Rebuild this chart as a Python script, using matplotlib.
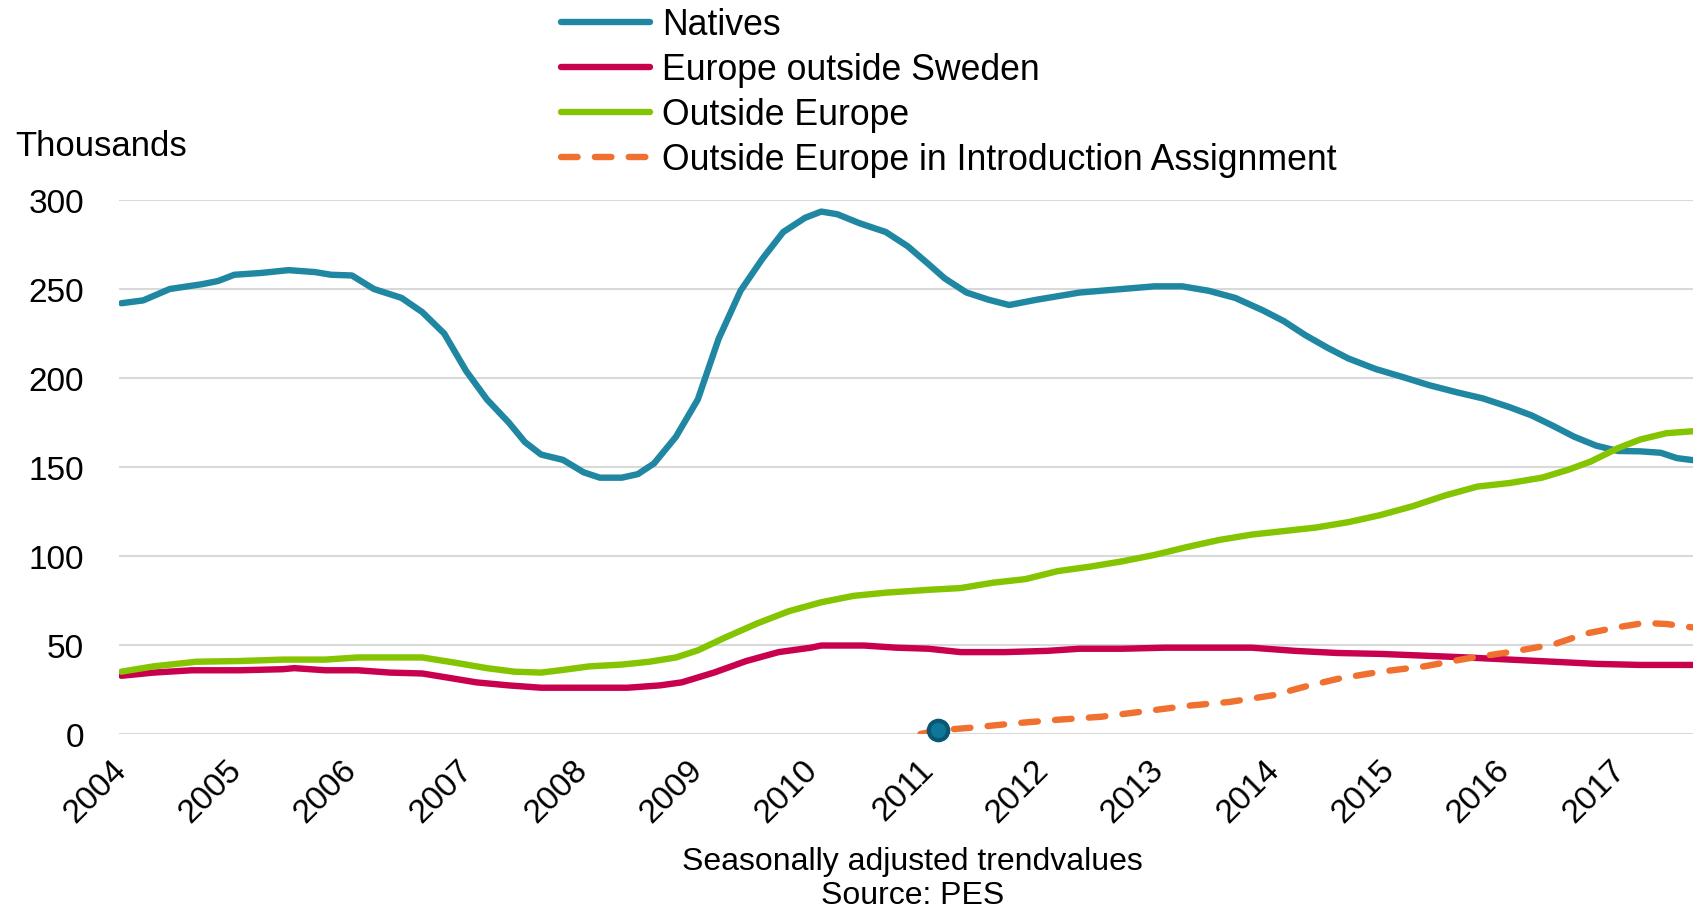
import matplotlib
matplotlib.use("Agg")
import matplotlib.pyplot as plt

plt.rcParams['font.family'] = ['Liberation Sans', 'DejaVu Sans']

# ---- data (decimal years, thousands) ----
nat_t = [2004.0, 2004.19, 2004.42, 2004.7, 2004.84, 2004.98, 2005.21, 2005.45, 2005.68, 2005.82,
         2006.0, 2006.19, 2006.43, 2006.61, 2006.8, 2006.99, 2007.17, 2007.36, 2007.5, 2007.64,
         2007.83, 2008.01, 2008.15, 2008.34, 2008.48, 2008.62, 2008.81, 2009.0, 2009.18, 2009.37,
         2009.56, 2009.74, 2009.93, 2010.07, 2010.21, 2010.4, 2010.63, 2010.82, 2011.0, 2011.14,
         2011.33, 2011.52, 2011.7, 2011.94, 2012.31, 2012.68, 2012.96, 2013.2, 2013.43, 2013.66,
         2013.9, 2014.08, 2014.27, 2014.46, 2014.64, 2014.88, 2015.11, 2015.34, 2015.58, 2015.81,
         2016.04, 2016.23, 2016.42, 2016.6, 2016.79, 2016.98, 2017.17, 2017.35, 2017.49, 2017.61, 2017.75]
nat_v = [242, 243.6, 250, 252.7, 254.5, 258, 259, 260.6, 259.5, 258,
         257.6, 250, 245, 237, 225, 204, 188, 175, 164, 157,
         154, 147, 144, 144, 146, 152, 167, 188, 222, 249,
         267, 282, 290, 293.5, 292, 287, 282, 274, 264, 256,
         248, 244, 241, 244, 248, 250, 251.5, 251.5, 249, 245,
         238, 232, 224, 217, 211, 205, 200.6, 196, 192, 188.5,
         183.6, 179, 173, 167, 162, 159, 158.8, 158, 155, 154, 153]

oe_t = [2004.0, 2004.28, 2004.65, 2005.03, 2005.4, 2005.77, 2006.05, 2006.61, 2006.9, 2007.17,
        2007.41, 2007.64, 2007.83, 2008.06, 2008.34, 2008.58, 2008.81, 2009.0, 2009.23, 2009.51,
        2009.79, 2010.07, 2010.35, 2010.63, 2011.0, 2011.28, 2011.56, 2011.84, 2012.12, 2012.4,
        2012.68, 2012.96, 2013.24, 2013.52, 2013.8, 2014.08, 2014.36, 2014.64, 2014.92, 2015.2,
        2015.48, 2015.76, 2016.04, 2016.32, 2016.55, 2016.74, 2016.98, 2017.17, 2017.4, 2017.61, 2017.75]
oe_v = [35, 38, 40.6, 41, 41.8, 41.8, 43, 43, 40, 37,
        35, 34.5, 36, 38, 39, 40.6, 43, 47, 54, 62,
        69, 74, 77.6, 79.4, 81, 82, 85, 87, 91.5, 94,
        97, 100.6, 105, 109, 112, 114, 116, 119, 123, 128,
        134, 139, 141, 144, 148.5, 153, 160.6, 165.4, 169, 170, 170.5]

eu_t = [2004.0, 2004.28, 2004.61, 2005.03, 2005.4, 2005.5, 2005.77, 2006.05, 2006.33, 2006.61,
        2006.8, 2007.08, 2007.36, 2007.64, 2008.01, 2008.39, 2008.67, 2008.86, 2009.14, 2009.42,
        2009.7, 2009.98, 2010.07, 2010.44, 2010.72, 2011.0, 2011.28, 2011.66, 2012.03, 2012.31,
        2012.68, 2013.06, 2013.43, 2013.8, 2014.18, 2014.55, 2014.92, 2015.3, 2015.67, 2016.04,
        2016.42, 2016.79, 2017.17, 2017.61, 2017.75]
eu_v = [32.7, 34.5, 35.8, 35.8, 36.4, 37, 35.8, 35.8, 34.5, 34,
        32, 29, 27.3, 26, 26, 26, 27.3, 29, 34.5, 41,
        46, 48.5, 49.7, 49.7, 48.5, 47.9, 46, 46, 46.7, 47.9,
        47.9, 48.5, 48.5, 48.5, 46.7, 45.5, 45, 44, 43, 41.8,
        40.6, 39.4, 38.8, 38.8, 38.8]

intro_t = [2010.93, 2011.08, 2011.38, 2011.75, 2012.12, 2012.5, 2012.87, 2013.24, 2013.61, 2013.99,
           2014.27, 2014.55, 2014.92, 2015.3, 2015.67, 2016.04, 2016.42, 2016.7, 2016.98, 2017.21,
           2017.4, 2017.61, 2017.75]
intro_v = [0, 2.0, 3.6, 6, 8, 9.7, 12.7, 15.8, 18, 21.8,
           26.7, 31, 35, 38, 42.4, 46, 50.3, 56.4, 60, 62.4,
           61.8, 60, 59]

marker_t = [2011.08]
marker_v = [2.5]

years = list(range(2004, 2018))
yticks = [0, 50, 100, 150, 200, 250, 300]

labels = ["Natives", "Europe outside Sweden", "Outside Europe",
          "Outside Europe in Introduction Assignment"]
colors = ["#1F87A2", "#C8004E", "#84C400", "#F07030"]

# ---- figure ----
W, H = 1693, 912
fig = plt.figure(figsize=(W / 100, H / 100), dpi=100)
ax = fig.add_axes([119 / W, 1 - 735 / H, 1 - 119 / W, (735 - 201) / H])

lw = 4.6
l1, = ax.plot(nat_t, nat_v, color=colors[0], lw=lw, solid_capstyle='round',
              solid_joinstyle='round', zorder=3)
l2, = ax.plot(eu_t, eu_v, color=colors[1], lw=lw, solid_capstyle='round',
              solid_joinstyle='round', zorder=3)
l3, = ax.plot(oe_t, oe_v, color=colors[2], lw=lw, solid_capstyle='round',
              solid_joinstyle='round', zorder=3)
l4, = ax.plot(intro_t, intro_v, color=colors[3], lw=lw, dashes=(2.6, 2.7),
              dash_capstyle='round', zorder=3)
ax.plot(marker_t, marker_v, 'o', color="#0E7797", mec="#0B5673", mew=3.0, ms=14,
        zorder=4, clip_on=False)

ax.set_xlim(2003.98, 2017.63)
ax.set_ylim(0, 300)
ax.set_yticks(yticks)
ax.set_xticks(years)
ax.set_xticklabels([str(y) for y in years], rotation=45, ha='right', va='center',
                   rotation_mode='anchor', fontsize=24)
ax.tick_params(axis='x', length=0, pad=22)
ax.tick_params(axis='y', length=0, pad=25, labelsize=24)
ax.grid(axis='y', color='#D9D9D9', lw=1.5, zorder=0)
ax.set_axisbelow(True)
for s in ax.spines.values():
    s.set_visible(False)

fig.text(15 / W, 1 - 147 / H, "Thousands", fontsize=25, va='center', ha='left')
fig.text(0.539, 1 - 862 / H, "Seasonally adjusted trendvalues", fontsize=23,
         ha='center', va='center')
fig.text(0.539, 1 - 896 / H, "Source: PES", fontsize=23, ha='center', va='center')

leg = fig.legend([l1, l2, l3, l4], labels, loc='upper left',
                 bbox_to_anchor=(561 / W, 0.991), frameon=False, fontsize=25.7,
                 handlelength=2.48, handletextpad=0.34, labelspacing=0.28,
                 borderpad=0, borderaxespad=0)

fig.savefig("out.png", dpi=100)
